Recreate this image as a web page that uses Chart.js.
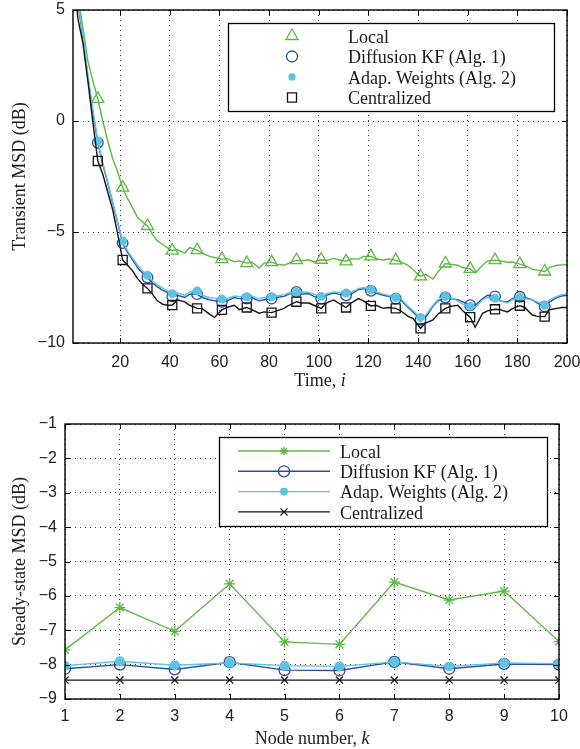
<!DOCTYPE html>
<html>
<head>
<meta charset="utf-8">
<script src="https://cdn.jsdelivr.net/npm/chart.js@4.4.1/dist/chart.umd.min.js"></script>
<style>
  body { margin: 0; background: #fff; }
  canvas { position: absolute; left: 0; }
  #transient { top: 0; }
  #steady { top: 390px; }
</style>
</head>
<body>
<canvas id="transient" width="580" height="390"></canvas>
<canvas id="steady" width="580" height="359"></canvas>
<script>
const seriesNames = ['Local', 'Diffusion KF (Alg. 1)', 'Adap. Weights (Alg. 2)', 'Centralized'];

// top panel: transient MSD (dB) against time i
const timeIdx = [1, 3, 5, 7, 9, 11, 13, 15, 17, 19, 21, 23, 25, 27, 29, 31, 33, 35, 37, 39,
  41, 43, 46, 48, 51, 53, 56, 58, 61, 63, 66, 68, 71, 73, 76, 78, 81, 83, 86, 88,
  91, 93, 96, 98, 101, 103, 106, 108, 111, 113, 116, 118, 121, 123, 126, 128, 131, 133, 136, 138,
  141, 143, 146, 148, 151, 153, 156, 158, 161, 163, 166, 168, 171, 173, 176, 178, 181, 183, 186, 188,
  191, 193, 196, 198, 200];
const localMsd = [7.0, 5.6, 4.2, 2.7, 1.8, 1.0, 0.0, -0.9, -1.7, -2.3, -3.0, -3.5, -3.9, -4.35, -4.55, -4.73, -5.1, -5.4, -5.55, -5.7,
  -5.84, -5.8, -5.95, -5.7, -5.82, -5.95, -6.1, -6.15, -6.22, -6.2, -6.34, -6.3, -6.4, -6.35, -6.62, -6.4, -6.36, -6.45, -6.5, -6.4,
  -6.27, -6.3, -6.25, -6.35, -6.25, -6.28, -6.19, -6.25, -6.32, -6.2, -6.22, -6.1, -6.1, -6.2, -6.26, -6.22, -6.28, -6.35, -6.5, -6.7,
  -7.0, -6.9, -7.12, -6.8, -6.42, -6.45, -6.5, -6.6, -6.66, -6.85, -6.5, -6.3, -6.27, -6.3, -6.36, -6.35, -6.45, -6.5, -6.68, -6.72,
  -6.78, -6.6, -6.5, -6.48, -6.47];
const diffusionMsd = [7.2, 5.3, 3.75, 1.95, 0.4, -0.98, -1.95, -2.8, -3.7, -4.6, -5.5, -5.92, -6.25, -6.6, -6.85, -7.05, -7.3, -7.47, -7.62, -7.72,
  -7.9, -7.85, -7.95, -7.8, -7.8, -7.95, -8.05, -8.1, -8.14, -8.1, -7.95, -8.0, -8.0, -7.95, -8.1, -8.05, -8.0, -7.95, -7.9, -7.8,
  -7.7, -7.8, -7.78, -7.9, -8.0, -7.85, -7.75, -7.8, -7.85, -7.8, -7.6, -7.55, -7.65, -7.75, -7.85, -7.9, -8.0, -8.05, -8.4, -8.6,
  -8.95, -8.85, -8.35, -8.1, -7.95, -8.0, -8.05, -8.15, -8.3, -8.3, -8.0, -7.85, -7.9, -8.1, -8.15, -8.0, -7.92, -7.95, -8.05, -8.2,
  -8.35, -8.15, -7.95, -7.88, -7.85];
const adaptiveMsd = [7.3, 5.4, 3.85, 2.05, 0.5, -0.9, -1.88, -2.75, -3.65, -4.55, -5.4, -5.85, -6.18, -6.5, -6.75, -6.95, -7.2, -7.38, -7.52, -7.65,
  -7.78, -7.75, -7.85, -7.7, -7.65, -7.85, -7.95, -7.98, -8.02, -8.0, -7.88, -7.9, -7.92, -7.88, -8.0, -7.95, -7.92, -7.88, -7.82, -7.75,
  -7.72, -7.7, -7.72, -7.8, -7.9, -7.78, -7.7, -7.72, -7.75, -7.72, -7.55, -7.5, -7.6, -7.7, -7.8, -7.85, -7.95, -8.0, -8.35, -8.55,
  -8.85, -8.75, -8.3, -8.05, -7.9, -7.95, -8.1, -8.25, -8.35, -8.4, -8.05, -7.95, -7.98, -8.1, -8.2, -8.05, -7.95, -8.0, -8.05, -8.15,
  -8.3, -8.05, -7.9, -7.82, -7.8];
const centralMsd = [6.8, 4.6, 3.5, 1.8, -0.05, -1.8, -2.4, -3.2, -4.0, -5.1, -6.26, -6.5, -6.75, -7.1, -7.35, -7.54, -7.8, -8.1, -8.25, -8.3,
  -8.29, -8.05, -8.15, -8.3, -8.44, -8.45, -8.7, -8.85, -8.51, -8.4, -8.3, -8.5, -8.4, -8.5, -8.66, -8.6, -8.63, -8.55, -8.44, -8.3,
  -8.14, -8.2, -8.2, -8.3, -8.44, -8.2, -8.06, -8.2, -8.4, -8.2, -8.0, -8.1, -8.33, -8.3, -8.44, -8.4, -8.44, -8.55, -8.8, -8.9,
  -9.34, -9.1, -8.96, -8.7, -8.44, -8.35, -8.3, -8.55, -8.84, -9.29, -8.66, -8.55, -8.48, -8.5, -8.6, -8.45, -8.32, -8.4, -8.74, -8.8,
  -8.81, -8.5, -8.44, -8.4, -8.4];
const timeTicks = [20, 40, 60, 80, 100, 120, 140, 160, 180, 200];
const transientTicks = [-10, -5, 0, 5];

// bottom panel: steady-state MSD (dB) per node k
const nodes = [1, 2, 3, 4, 5, 6, 7, 8, 9, 10];
const localSteady = [-7.57, -6.34, -7.03, -5.65, -7.34, -7.41, -5.6, -6.12, -5.86, -7.33];
const diffusionSteady = [-8.12, -8.0, -8.14, -7.93, -8.16, -8.17, -7.92, -8.12, -7.98, -8.0];
const adaptiveSteady = [-8.03, -7.9, -8.02, -7.95, -8.03, -8.05, -7.92, -8.05, -7.95, -7.97];
const centralSteady = [-8.45, -8.45, -8.45, -8.45, -8.45, -8.45, -8.45, -8.45, -8.45, -8.45];
const nodeTicks = [1, 2, 3, 4, 5, 6, 7, 8, 9, 10];
const steadyTicks = [-9, -8, -7, -6, -5, -4, -3, -2, -1];

const GREEN = '#5cb944';
const BLUE = '#2d4ea8';
const CYAN = '#5cc4e2';
const BLACK = '#141414';
const TICK_FONT = { family: 'Liberation Sans', size: 16 };
const LABEL_FAMILY = 'Liberation Serif';

Chart.defaults.animation = false;
Chart.defaults.events = [];

function pairs(xs, ys) {
  return xs.map((x, i) => ({ x: x, y: ys[i] }));
}

function everyTenth(ctx) {
  const x = ctx.raw && ctx.raw.x;
  return x > 1 && (x - 1) % 10 === 0;
}

function minus(v) {
  return String(v).replace('-', '\u2212');
}

// draws box, inward ticks, legend and the x caption (with italic symbol)
const matlabFrame = {
  id: 'matlabFrame',
  afterDraw(chart, args, opts) {
    const { ctx, chartArea: a, scales: { x, y } } = chart;
    ctx.save();

    const lg = opts.legend;
    ctx.fillStyle = '#fff';
    ctx.fillRect(lg.left, lg.top, lg.width, lg.height);
    ctx.strokeStyle = '#000';
    ctx.lineWidth = 1.3;
    ctx.strokeRect(lg.left, lg.top, lg.width, lg.height);
    chart.data.datasets.forEach((ds, i) => {
      const cy = lg.firstRow + i * lg.rowGap;
      if (lg.lines) {
        ctx.strokeStyle = ds.borderColor;
        ctx.lineWidth = ds.borderWidth;
        ctx.beginPath();
        ctx.moveTo(lg.lineFrom, cy);
        ctx.lineTo(lg.lineTo, cy);
        ctx.stroke();
      }
      ctx.strokeStyle = ds.pointBorderColor;
      ctx.fillStyle = ds.pointBackgroundColor;
      ctx.lineWidth = ds.pointBorderWidth;
      Chart.helpers.drawPoint(ctx, {
        pointStyle: ds.pointStyle, rotation: 0,
        radius: ds.legendRadius, borderWidth: ds.pointBorderWidth
      }, lg.markerX, cy);
      ctx.fillStyle = '#1a1a1a';
      ctx.font = '18px ' + LABEL_FAMILY;
      ctx.textBaseline = 'middle';
      ctx.textAlign = 'left';
      ctx.fillText(ds.label, lg.textX, cy + 2);
    });

    ctx.strokeStyle = '#000';
    ctx.lineWidth = 1;
    ctx.beginPath();
    x.ticks.forEach(t => {
      const px = Math.round(x.getPixelForValue(t.value)) + 0.5;
      ctx.moveTo(px, a.bottom); ctx.lineTo(px, a.bottom - 5);
      ctx.moveTo(px, a.top); ctx.lineTo(px, a.top + 5);
    });
    y.ticks.forEach(t => {
      const py = Math.round(y.getPixelForValue(t.value)) + 0.5;
      ctx.moveTo(a.left, py); ctx.lineTo(a.left + 5, py);
      ctx.moveTo(a.right, py); ctx.lineTo(a.right - 5, py);
    });
    ctx.stroke();
    ctx.lineWidth = 1.4;
    ctx.strokeRect(a.left, a.top, a.width, a.height);

    const cap = opts.caption;
    ctx.fillStyle = '#1a1a1a';
    ctx.textBaseline = 'middle';
    ctx.textAlign = 'left';
    ctx.font = '18px ' + LABEL_FAMILY;
    const w1 = ctx.measureText(cap.text).width;
    ctx.font = 'italic 18px ' + LABEL_FAMILY;
    const w2 = ctx.measureText(cap.symbol).width;
    let cx = (a.left + a.right) / 2 - (w1 + w2) / 2;
    ctx.font = '18px ' + LABEL_FAMILY;
    ctx.fillText(cap.text, cx, a.bottom + cap.offset);
    ctx.font = 'italic 18px ' + LABEL_FAMILY;
    ctx.fillText(cap.symbol, cx + w1, a.bottom + cap.offset);
    ctx.restore();
  }
};

function axes(xMin, xMax, xTicks, yMin, yMax, yTicks, yTitle, xHeight, xPad) {
  return {
    x: {
      type: 'linear', min: xMin, max: xMax,
      afterBuildTicks: s => { s.ticks = xTicks.map(v => ({ value: v })); },
      afterFit: s => { s.height = xHeight; s.paddingLeft = 0; s.paddingRight = 0; },
      grid: { color: '#333', lineWidth: 1, drawTicks: false },
      border: { display: false, dash: [1, 4] },
      ticks: { font: TICK_FONT, color: '#222', padding: xPad, maxRotation: 0, autoSkip: false,
        callback: v => minus(v) }
    },
    y: {
      type: 'linear', min: yMin, max: yMax,
      afterBuildTicks: s => { s.ticks = yTicks.map(v => ({ value: v })); },
      afterFit: s => { s.width = s.options.fixedWidth; s.paddingTop = 0; s.paddingBottom = 0; },
      grid: { color: '#333', lineWidth: 1, drawTicks: false },
      border: { display: false, dash: [1, 4] },
      ticks: { font: TICK_FONT, color: '#222', padding: 8, autoSkip: false, callback: v => minus(v) },
      title: { display: true, text: yTitle, color: '#1a1a1a',
        font: { family: LABEL_FAMILY, size: 18 }, padding: { top: 9, bottom: 0 } }
    }
  };
}

const markerSet = (style, radius, color, fill, legendRadius) => ({
  pointStyle: style, pointBorderColor: color, pointBackgroundColor: fill,
  pointBorderWidth: 1.3, legendRadius: legendRadius, radius: radius
});

// ---- transient chart
const topScales = axes(1, 200, timeTicks, -10, 5, transientTicks, 'Transient MSD (dB)', 47, 10);
topScales.y.fixedWidth = 73;
const topMarks = [
  markerSet('triangle', 7, GREEN, 'rgba(0,0,0,0)', 7),
  markerSet('circle', 5.3, BLUE, 'rgba(0,0,0,0)', 5.5),
  markerSet('circle', 3.8, CYAN, CYAN, 3),
  markerSet('rect', 6.4, BLACK, 'rgba(0,0,0,0)', 6.4)
];
const topSeries = [localMsd, diffusionMsd, adaptiveMsd, centralMsd];
const topColors = [GREEN, BLUE, CYAN, BLACK];

new Chart(document.getElementById('transient'), {
  type: 'line',
  data: {
    datasets: topSeries.map((vals, i) => ({
      label: seriesNames[i],
      data: pairs(timeIdx, vals),
      borderColor: topColors[i],
      borderWidth: 1.4,
      tension: 0,
      order: 4 - i,
      pointStyle: topMarks[i].pointStyle,
      pointBorderColor: topMarks[i].pointBorderColor,
      pointBackgroundColor: topMarks[i].pointBackgroundColor,
      pointBorderWidth: topMarks[i].pointBorderWidth,
      legendRadius: topMarks[i].legendRadius,
      pointRadius: ctx => everyTenth(ctx) ? topMarks[i].radius : 0
    }))
  },
  options: {
    responsive: false,
    layout: { padding: { top: 10, right: 13, left: 0, bottom: 0 } },
    scales: topScales,
    plugins: {
      legend: { display: false },
      tooltip: { enabled: false },
      matlabFrame: {
        legend: { left: 228.5, top: 23.5, width: 326, height: 88, lines: false,
          markerX: 292, textX: 348, firstRow: 36, rowGap: 20.5 },
        caption: { text: 'Time, ', symbol: 'i', offset: 38 }
      }
    }
  },
  plugins: [matlabFrame]
});

// ---- steady-state chart
const botScales = axes(1, 10, nodeTicks, -9, -1, steadyTicks, 'Steady-state MSD (dB)', 50, 8);
botScales.y.fixedWidth = 65;
const botMarks = [
  markerSet('star', 5.5, GREEN, GREEN, 4.2),
  markerSet('circle', 5.5, BLUE, 'rgba(0,0,0,0)', 5.5),
  markerSet('circle', 4.3, CYAN, CYAN, 3.3),
  markerSet('crossRot', 5, BLACK, BLACK, 5)
];
const botSeries = [localSteady, diffusionSteady, adaptiveSteady, centralSteady];

new Chart(document.getElementById('steady'), {
  type: 'line',
  data: {
    datasets: botSeries.map((vals, i) => ({
      label: seriesNames[i],
      data: pairs(nodes, vals),
      borderColor: topColors[i],
      borderWidth: 1.4,
      tension: 0,
      order: 4 - i,
      pointStyle: botMarks[i].pointStyle,
      pointBorderColor: botMarks[i].pointBorderColor,
      pointBackgroundColor: botMarks[i].pointBackgroundColor,
      pointBorderWidth: botMarks[i].pointBorderWidth,
      legendRadius: botMarks[i].legendRadius,
      pointRadius: botMarks[i].radius
    }))
  },
  options: {
    responsive: false,
    layout: { padding: { top: 34, right: 21, left: 0, bottom: 0 } },
    scales: botScales,
    plugins: {
      legend: { display: false },
      tooltip: { enabled: false },
      matlabFrame: {
        legend: { left: 219.5, top: 47.5, width: 328, height: 89, lines: true,
          lineFrom: 238, lineTo: 330, markerX: 284, textX: 340, firstRow: 61, rowGap: 20.3 },
        caption: { text: 'Node number, ', symbol: 'k', offset: 40 }
      }
    }
  },
  plugins: [matlabFrame]
});
</script>
</body>
</html>
